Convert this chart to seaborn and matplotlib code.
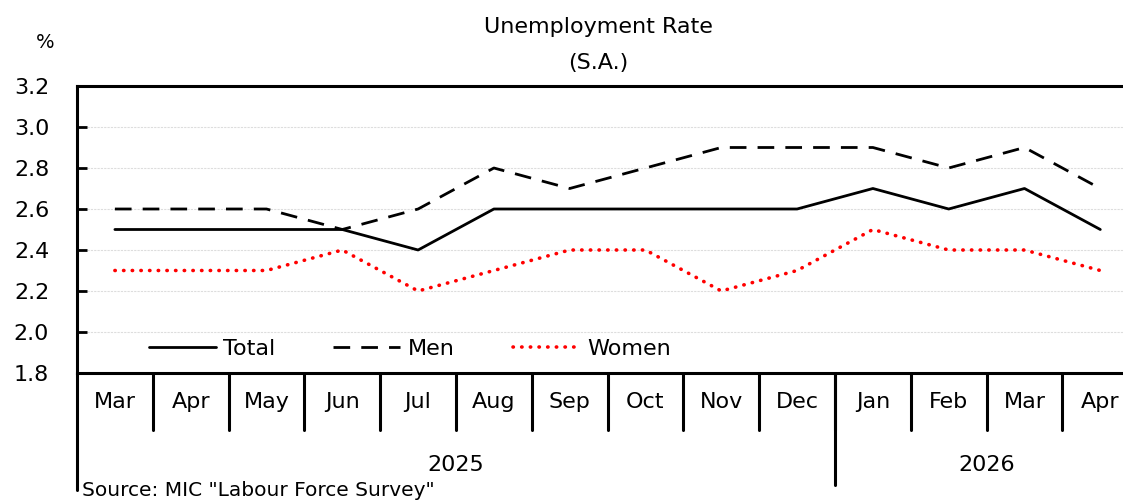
import matplotlib
matplotlib.use("Agg")
import matplotlib.pyplot as plt
import matplotlib.transforms as mtransforms
import seaborn as sns
import pandas as pd

months = ["Mar", "Apr", "May", "Jun", "Jul", "Aug", "Sep", "Oct", "Nov", "Dec",
          "Jan", "Feb", "Mar", "Apr"]
years = ["2025", "2026"]
year_counts = [10, 4]
total = [2.5, 2.5, 2.5, 2.5, 2.4, 2.6, 2.6, 2.6, 2.6, 2.6, 2.7, 2.6, 2.7, 2.5]
men = [2.6, 2.6, 2.6, 2.5, 2.6, 2.8, 2.7, 2.8, 2.9, 2.9, 2.9, 2.8, 2.9, 2.7]
women = [2.3, 2.3, 2.3, 2.4, 2.2, 2.3, 2.4, 2.4, 2.2, 2.3, 2.5, 2.4, 2.4, 2.3]
yticks = [1.8, 2.0, 2.2, 2.4, 2.6, 2.8, 3.0, 3.2]

sns.set_theme(style="white")
plt.rcParams["font.family"] = ["DejaVu Sans"]
plt.rcParams["text.color"] = "black"

FS = 16
W, H = 1123, 501
fig = plt.figure(figsize=(W / 100, H / 100), dpi=100)
left_px, top_px, bot_px, cell = 77, 86, 373, 75.8
ax = fig.add_axes([left_px / W, 1 - bot_px / H, 14 * cell / W, (bot_px - top_px) / H])

x = list(range(len(months)))
df = pd.DataFrame({"x": x, "Total": total, "Men": men, "Women": women})

sns.lineplot(data=df, x="x", y="Total", ax=ax, color="black", lw=2.0, label="Total")
sns.lineplot(data=df, x="x", y="Men", ax=ax, color="black", lw=2.0, label="Men",
             linestyle=(0, (6, 4)))
sns.lineplot(data=df, x="x", y="Women", ax=ax, color="#ff0000", lw=2.6, label="Women",
             linestyle=(0, (0.1, 2.3)), dash_capstyle="round")

ax.set_xlim(-0.5, len(months) - 0.5)
ax.set_ylim(1.8, 3.2)
ax.set_yticks(yticks)
ax.set_yticklabels([f"{v:.1f}" for v in yticks], fontsize=FS, color="black")
ax.tick_params(axis="y", direction="in", length=7, width=2, color="black", pad=20, left=True)
ax.set_xticks(x)
ax.set_xticklabels(months, fontsize=FS, color="black")
ax.tick_params(axis="x", length=0, pad=14)
ax.set_xlabel("")
ax.set_ylabel("")

for v in yticks[1:-1]:
    ax.axhline(v, color="#dddddd", lw=0.8, ls=(0, (2, 1)), zorder=0)

for s in ["top", "left", "bottom"]:
    ax.spines[s].set_visible(True)
    ax.spines[s].set_color("black")
    ax.spines[s].set_linewidth(2.2)
ax.spines["right"].set_visible(False)

hpx = bot_px - top_px
trans = mtransforms.blended_transform_factory(ax.transData, ax.transAxes)
for i in range(len(months) - 1):
    ax.plot([i + 0.5, i + 0.5], [0, -57 / hpx], transform=trans, color="black",
            lw=2.2, clip_on=False)
# left spine extension & year separators
ax.plot([-0.5, -0.5], [0, -117 / hpx], transform=trans, color="black", lw=2.2, clip_on=False)
start = 0
for yr, n in zip(years, year_counts):
    mid = start + (n - 1) / 2
    ax.text(mid, -92 / hpx, yr, transform=trans, ha="center", va="center", fontsize=FS)
    start += n
    if start < len(months):
        ax.plot([start - 0.5, start - 0.5], [0, -112 / hpx], transform=trans,
                color="black", lw=2.2, clip_on=False)

leg = ax.legend(loc="center left", bbox_to_anchor=(72 / (14 * cell), 24 / hpx), ncol=3,
                frameon=False, fontsize=FS, handlelength=3.0, handletextpad=0.35,
                columnspacing=2.6, borderaxespad=0, borderpad=0)

fig.text(598 / W, 1 - 27 / H, "Unemployment Rate", ha="center", va="center", fontsize=FS)
fig.text(598 / W, 1 - 63 / H, "(S.A.)", ha="center", va="center", fontsize=FS)
fig.text(45 / W, 1 - 42 / H, "%", ha="center", va="center", fontsize=14)
fig.text(82 / W, 1 - 491 / H, 'Source: MIC "Labour Force Survey"', ha="left", va="center",
         fontsize=14.5)

fig.savefig("out.png", dpi=100)
